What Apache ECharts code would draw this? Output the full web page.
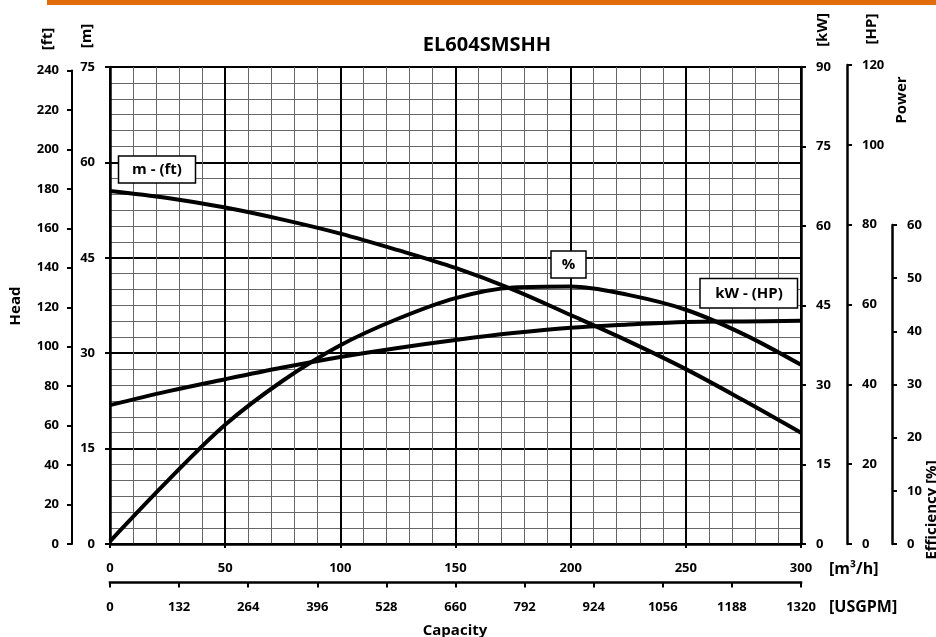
<!DOCTYPE html>
<html>
<head>
<meta charset="utf-8">
<script src="https://cdn.jsdelivr.net/npm/echarts@6/dist/echarts.min.js"></script>
<style>
html,body{margin:0;padding:0;background:#fff;}
#chart{width:936px;height:637px;}
</style>
</head>
<body>
<div id="chart"></div>
<script>
// ---- data ----
const chartTitle = 'EL604SMSHH';
const flowM3h   = [0, 25, 50, 75, 100, 125, 150, 175, 200, 225, 250, 275, 300];
const headM     = [55.5, 54.4, 52.9, 51.0, 48.8, 46.2, 43.4, 40.0, 36.0, 31.9, 27.5, 22.6, 17.5];
const powerKW   = [26.2, 28.8, 31.1, 33.3, 35.3, 37.0, 38.5, 39.8, 40.8, 41.4, 41.9, 42.0, 42.1];
const efficiency= [0.5, 11.9, 22.5, 30.8, 37.5, 42.5, 46.4, 48.4, 48.6, 47.0, 44.2, 39.6, 33.8];

const flowRange = [0, 300, 50];      // m3/h axis min,max,interval
const usgpmRange = [0, 1320, 132];
const headMRange = [0, 75, 15];
const headFtRange = [0, 240, 20];
const powerKWRange = [0, 90, 15];
const powerHPRange = [0, 120, 20];
const effRange = [0, 60, 10];
const effPlotRange = [0, 90];       // efficiency scale across the full plot height

const FONT = '"Open Sans", "DejaVu Sans", sans-serif';
const plain = (v) => String(v);
const lbl = (extra) => Object.assign({fontFamily: FONT, fontWeight: 'bold', fontSize: 13, color: '#000', formatter: plain}, extra || {});

const chart = echarts.init(document.getElementById('chart'), null, {renderer: 'canvas'});

const majorLine = {show: true, lineStyle: {color: '#000', width: 2}};
const minorLine = {show: true, lineStyle: {color: '#666', width: 1}};

function pts(ys) { return flowM3h.map((x, i) => [x, ys[i]]); }

const option = {
  animation: false,
  backgroundColor: '#fff',
  title: {
    text: chartTitle, left: 482, top: 30, textAlign: 'center',
    textStyle: {fontFamily: FONT, fontWeight: 'bold', fontSize: 20, color: '#000'}
  },
  grid: [
    {left: 110, right: 135, top: 67, bottom: 93},          // main plot
    {left: 72, width: 1, top: 70.5, bottom: 93},          // ft axis
    {left: 847, width: 1, top: 65, bottom: 93},           // HP axis
    {left: 892, width: 1, top: 225, bottom: 93},          // efficiency axis
    {left: 110, right: 135, top: 581, bottom: 54.5}       // USGPM axis
  ],
  xAxis: [
    {
      gridIndex: 0, type: 'value', min: flowRange[0], max: flowRange[1], interval: flowRange[2],
      axisLine: {show: true, lineStyle: {color: '#000', width: 2.5}},
      axisTick: {show: true, length: 4, lineStyle: {color: '#000', width: 2}},
      axisLabel: lbl({margin: 18}),
      splitLine: majorLine,
      minorTick: {show: false, splitNumber: 5},
      minorSplitLine: minorLine
    },
    {gridIndex: 1, type: 'value', show: false},
    {gridIndex: 2, type: 'value', show: false},
    {gridIndex: 3, type: 'value', show: false},
    {
      gridIndex: 4, type: 'value', min: usgpmRange[0], max: usgpmRange[1], interval: usgpmRange[2],
      position: 'bottom',
      axisLine: {show: true, lineStyle: {color: '#000', width: 2.5, cap: 'square'}},
      axisTick: {show: true, length: 5, lineStyle: {color: '#000', width: 2}},
      axisLabel: lbl({margin: 18}),
      splitLine: {show: false}
    }
  ],
  yAxis: [
    {
      gridIndex: 0, type: 'value', position: 'left', min: headMRange[0], max: headMRange[1], interval: headMRange[2],
      axisLine: {show: true, lineStyle: {color: '#000', width: 2.5}},
      axisTick: {show: true, length: 5, lineStyle: {color: '#000', width: 2}},
      axisLabel: lbl({margin: 15}),
      splitLine: majorLine,
      minorTick: {show: false, splitNumber: 6},
      minorSplitLine: minorLine
    },
    {
      gridIndex: 0, type: 'value', position: 'right', min: powerKWRange[0], max: powerKWRange[1], interval: powerKWRange[2],
      axisLine: {show: true, lineStyle: {color: '#000', width: 2.5}},
      axisTick: {show: true, length: 5, lineStyle: {color: '#000', width: 2}},
      axisLabel: lbl({margin: 15}),
      splitLine: {show: false}
    },
    {gridIndex: 0, type: 'value', position: 'right', min: effPlotRange[0], max: effPlotRange[1], show: false},
    {
      gridIndex: 1, type: 'value', position: 'left', min: headFtRange[0], max: headFtRange[1], interval: headFtRange[2],
      axisLine: {show: true, lineStyle: {color: '#000', width: 2}},
      axisTick: {show: true, length: 5, lineStyle: {color: '#000', width: 2}},
      axisLabel: lbl({margin: 13}),
      splitLine: {show: false}
    },
    {
      gridIndex: 2, type: 'value', position: 'right', min: powerHPRange[0], max: powerHPRange[1], interval: powerHPRange[2],
      axisLine: {show: true, lineStyle: {color: '#000', width: 2.5}},
      axisTick: {show: true, length: 5, lineStyle: {color: '#000', width: 2}},
      axisLabel: lbl({margin: 14}),
      splitLine: {show: false}
    },
    {
      gridIndex: 3, type: 'value', position: 'right', min: effRange[0], max: effRange[1], interval: effRange[2],
      axisLine: {show: true, lineStyle: {color: '#000', width: 2.5}},
      axisTick: {show: true, length: 5, lineStyle: {color: '#000', width: 2}},
      axisLabel: lbl({margin: 14}),
      splitLine: {show: false}
    },
    {gridIndex: 4, type: 'value', show: false}
  ],
  series: [
    {name: 'Head', type: 'line', xAxisIndex: 0, yAxisIndex: 0, data: pts(headM), smooth: 0.35,
     showSymbol: false, lineStyle: {color: '#000', width: 4}, z: 5},
    {name: 'Power', type: 'line', xAxisIndex: 0, yAxisIndex: 1, data: pts(powerKW), smooth: 0.35,
     showSymbol: false, lineStyle: {color: '#000', width: 4}, z: 5},
    {name: 'Efficiency', type: 'line', xAxisIndex: 0, yAxisIndex: 2, data: pts(efficiency), smooth: 0.35,
     showSymbol: false, lineStyle: {color: '#000', width: 4}, z: 5}
  ],
  graphic: [
    {type: 'rect', shape: {x: 47, y: 0, width: 889, height: 5}, style: {fill: '#E26B0A'}},
    // axis unit labels (rotated)
    {type: 'text', x: 48, y: 39, rotation: Math.PI / 2, style: {text: '[ft]', font: 'bold 15px ' + FONT, fill: '#000', align: 'center', verticalAlign: 'middle'}},
    {type: 'text', x: 87, y: 36, rotation: Math.PI / 2, style: {text: '[m]', font: 'bold 15px ' + FONT, fill: '#000', align: 'center', verticalAlign: 'middle'}},
    {type: 'text', x: 16, y: 306, rotation: Math.PI / 2, style: {text: 'Head', font: 'bold 15px ' + FONT, fill: '#000', align: 'center', verticalAlign: 'middle'}},
    {type: 'text', x: 823, y: 30, rotation: Math.PI / 2, style: {text: '[kW]', font: 'bold 15px ' + FONT, fill: '#000', align: 'center', verticalAlign: 'middle'}},
    {type: 'text', x: 872, y: 29, rotation: Math.PI / 2, style: {text: '[HP]', font: 'bold 15px ' + FONT, fill: '#000', align: 'center', verticalAlign: 'middle'}},
    {type: 'text', x: 902, y: 100, rotation: Math.PI / 2, style: {text: 'Power', font: 'bold 15px ' + FONT, fill: '#000', align: 'center', verticalAlign: 'middle'}},
    {type: 'text', x: 932, y: 510, rotation: Math.PI / 2, style: {text: 'Efficiency [%]', font: 'bold 15px ' + FONT, fill: '#000', align: 'center', verticalAlign: 'middle'}},
    // x unit labels
    {type: 'text', x: 829, y: 569, style: {text: '[m³/h]', font: 'bold 16px ' + FONT, fill: '#000', align: 'left', verticalAlign: 'middle'}},
    {type: 'text', x: 829, y: 607, style: {text: '[USGPM]', font: 'bold 16px ' + FONT, fill: '#000', align: 'left', verticalAlign: 'middle'}},
    {type: 'text', x: 455, y: 631, style: {text: 'Capacity', font: 'bold 15px ' + FONT, fill: '#000', align: 'center', verticalAlign: 'middle'}},
    // curve label boxes
    {type: 'rect', z: 10, shape: {x: 118.5, y: 156, width: 77, height: 27}, style: {fill: '#fff', stroke: '#000', lineWidth: 1.5}},
    {type: 'text', z: 11, x: 157, y: 169.5, style: {text: 'm - (ft)', font: 'bold 15px ' + FONT, fill: '#000', align: 'center', verticalAlign: 'middle'}},
    {type: 'rect', z: 10, shape: {x: 551, y: 251, width: 35, height: 27}, style: {fill: '#fff', stroke: '#000', lineWidth: 1.5}},
    {type: 'text', z: 11, x: 568.5, y: 264.5, style: {text: '%', font: 'bold 15px ' + FONT, fill: '#000', align: 'center', verticalAlign: 'middle'}},
    {type: 'rect', z: 10, shape: {x: 700, y: 278.5, width: 97.5, height: 29.5}, style: {fill: '#fff', stroke: '#000', lineWidth: 1.5}},
    {type: 'text', z: 11, x: 749, y: 293.5, style: {text: 'kW - (HP)', font: 'bold 15px ' + FONT, fill: '#000', align: 'center', verticalAlign: 'middle'}}
  ]
};

chart.setOption(option);
</script>
</body>
</html>
